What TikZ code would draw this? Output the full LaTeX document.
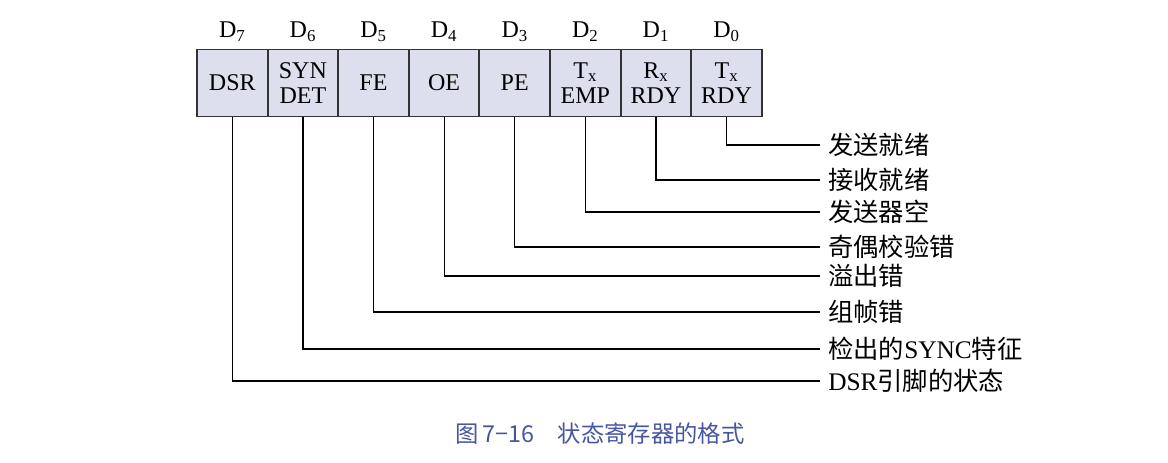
\documentclass[tikz,border=0pt]{standalone}
\usepackage{fontspec}
\setmainfont{Liberation Serif}
\newfontfamily\cjk{Noto Sans CJK SC}
\usetikzlibrary{positioning}
\definecolor{cellfill}{RGB}{221,222,238}
\definecolor{capblue}{RGB}{72,86,160}

\begin{document}
\begin{tikzpicture}
		[x=0.75pt, y=-0.75pt,
			cell/.style ={rectangle, draw=black!80, line width=1.4pt, fill=cellfill, minimum width=52.95pt, minimum height=50.25pt, inner sep=0pt, outer sep=0pt, align=center, font=\fontsize{18}{18.75}\selectfont},
 bit/.style ={inner sep=0pt, font=\fontsize{18}{20}\selectfont},
 line/.style ={draw, line width=0.9pt},
 lab/.style ={anchor=west, inner sep=0pt, inner xsep=6pt, font=\fontsize{19}{20}\cjk}]
		\useasboundingbox (0,0) rectangle (1168,462);
		% register cells
		\node[cell] (c7) at (232.3,83) {DSR};
		\node[cell, right=0pt of c7] (c6) {SYN\\DET};
		\node[cell, right=0pt of c6] (c5) {FE};
		\node[cell, right=0pt of c5] (c4) {OE};
		\node[cell, right=0pt of c4] (c3) {PE};
		\node[cell, right=0pt of c3] (c2) {T\textsubscript{x}\\EMP};
		\node[cell, right=0pt of c2] (c1) {R\textsubscript{x}\\RDY};
		\node[cell, right=0pt of c1] (c0) {T\textsubscript{x}\\RDY};
		% bit numbers
		\node[bit, above=6pt of c7] (d7) {D\textsubscript{7}};
		\node[bit, above=6pt of c6] (d6) {D\textsubscript{6}};
		\node[bit, above=6pt of c5] (d5) {D\textsubscript{5}};
		\node[bit, above=6pt of c4] (d4) {D\textsubscript{4}};
		\node[bit, above=6pt of c3] (d3) {D\textsubscript{3}};
		\node[bit, above=6pt of c2] (d2) {D\textsubscript{2}};
		\node[bit, above=6pt of c1] (d1) {D\textsubscript{1}};
		\node[bit, above=6pt of c0] (d0) {D\textsubscript{0}};
		% meanings
		\node[lab] (r0) at (820,145) {发送就绪};
		\node[lab] (r1) at (820,180) {接收就绪};
		\node[lab] (r2) at (820,212) {发送器空};
		\node[lab] (r3) at (820,247) {奇偶校验错};
		\node[lab] (r4) at (820,276) {溢出错};
		\node[lab] (r5) at (820,312) {组帧错};
		\node[lab] (r6) at (820,349) {检出的{\rmfamily SYNC}特征};
		\node[lab] (r7) at (820,381) {{\rmfamily DSR}引脚的状态};
		\draw[line] (c0.south) |- (r0.west);
		\draw[line] (c1.south) |- (r1.west);
		\draw[line] (c2.south) |- (r2.west);
		\draw[line] (c3.south) |- (r3.west);
		\draw[line] (c4.south) |- (r4.west);
		\draw[line] (c5.south) |- (r5.west);
		\draw[line] (c6.south) |- (r6.west);
		\draw[line] (c7.south) |- (r7.west);
		% caption
		\node[text=capblue, font=\fontsize{17.5}{20}\cjk] (cap) at (600,434) {图\,7−16\hspace{1em}状态寄存器的格式};
	\end{tikzpicture}
\end{document}
